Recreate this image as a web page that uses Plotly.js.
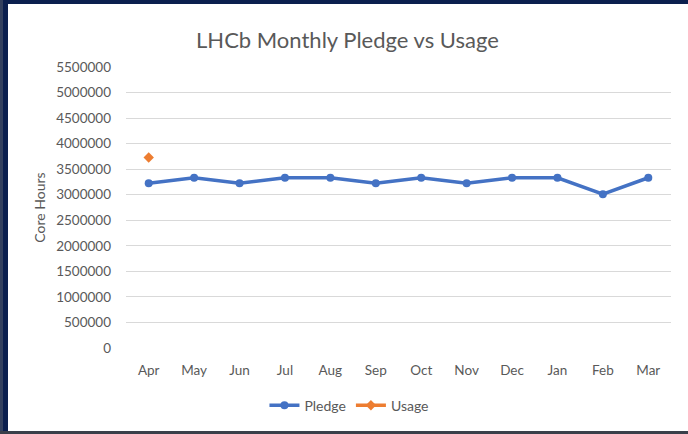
<!DOCTYPE html>
<html>
<head>
<meta charset="utf-8">
<script src="https://cdn.plot.ly/plotly-3.0.1.min.js"></script>
<style>
html,body{margin:0;padding:0;background:#fff;}
#wrap{position:relative;width:688px;height:434px;overflow:hidden;}
#chart{position:absolute;left:0;top:0;width:688px;height:434px;}
.b{position:absolute;}
</style>
</head>
<body>
<div id="wrap">
<div id="chart"></div>
<div class="b" style="left:0;top:0;width:688px;height:4px;background:#0b1f4e;"></div>
<div class="b" style="left:0;top:0;width:3px;height:434px;background:#33405e;"></div>
<div class="b" style="left:3px;top:0;width:5px;height:434px;background:#0b1f4e;"></div>
<div class="b" style="left:0;top:431px;width:688px;height:3px;background:#3a3f4a;"></div>
</div>
<script>
const months = ["Apr","May","Jun","Jul","Aug","Sep","Oct","Nov","Dec","Jan","Feb","Mar"];
const pledge = [3225000,3332500,3225000,3332500,3332500,3225000,3332500,3225000,3332500,3332500,3010000,3332500];
const usage = [3730000,null,null,null,null,null,null,null,null,null,null,null];
const yTicks = [0,500000,1000000,1500000,2000000,2500000,3000000,3500000,4000000,4500000,5000000,5500000];

const font = "Lato, 'Open Sans', sans-serif";
const traces = [
  {x: months, y: pledge, name: "Pledge", type: "scatter", mode: "lines+markers",
   line: {color: "#4472c4", width: 3.5}, marker: {color: "#4472c4", size: 8, symbol: "circle"}},
  {x: months, y: usage, name: "Usage", type: "scatter", mode: "lines+markers",
   line: {color: "#ed7d31", width: 3.5}, marker: {color: "#ed7d31", size: 8, symbol: "diamond"}}
];
const layout = {
  width: 688, height: 434,
  margin: {l: 126, r: 17, t: 67, b: 83},
  paper_bgcolor: "#ffffff", plot_bgcolor: "#ffffff",
  font: {family: font, color: "#595959", size: 13.5},
  title: {text: "LHCb Monthly Pledge vs Usage", x: 0.505, xanchor: "center", xref: "container",
          y: 0.925, yref: "container", font: {family: font, size: 22, color: "#595959"}},
  xaxis: {type: "category", range: [-0.5, 11.5], showgrid: false, showline: false, zeroline: false,
          ticks: "", ticklabelstandoff: 12, tickfont: {size: 13.5, color: "#595959"}, fixedrange: true},
  yaxis: {range: [0, 5500000], tickvals: yTicks, ticktext: yTicks.map(String),
          showgrid: true, gridcolor: "#d9d9d9", gridwidth: 1, zeroline: false, showline: false,
          ticks: "", ticklabelstandoff: 14, tickfont: {size: 13.5, color: "#595959"},
          title: {text: "Core Hours", standoff: 7, font: {size: 14, color: "#595959"}}},
  showlegend: true,
  legend: {orientation: "h", x: 0.41, xanchor: "center", y: -0.205, yanchor: "middle",
           font: {size: 14, color: "#595959"}, traceorder: "normal", itemwidth: 30}
};
Plotly.newPlot("chart", traces, layout, {displayModeBar: false, staticPlot: true});
</script>
</body>
</html>
